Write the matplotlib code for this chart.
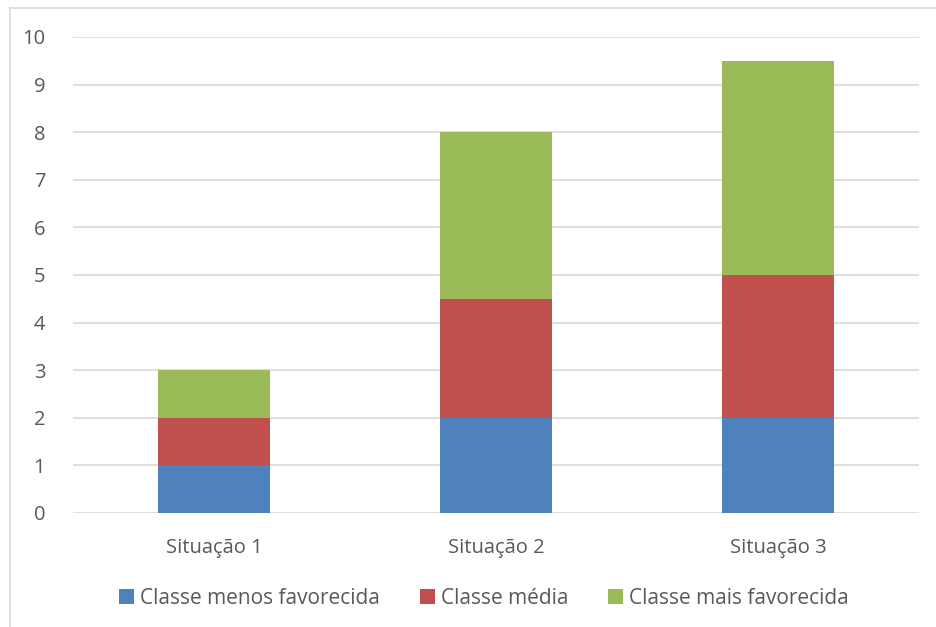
import matplotlib.pyplot as plt
from matplotlib.lines import Line2D
import numpy as np

plt.rcParams['font.family'] = ['Open Sans', 'DejaVu Sans']

# dados
situacoes = ['Situação 1', 'Situação 2', 'Situação 3']
menos_favorecida = [1, 2, 2]
media = [1, 2.5, 3]
mais_favorecida = [1, 3.5, 4.5]
series_nomes = ['Classe menos favorecida', 'Classe média', 'Classe mais favorecida']
cores = ['#4F81BD', '#C0504D', '#9BBB59']

W, H = 937, 627
fig = plt.figure(figsize=(W / 100, H / 100), dpi=100)
ax = fig.add_axes([73 / W, 1 - 513 / H, (919 - 73) / W, (513 - 37) / H])

x = np.arange(len(situacoes))
base = np.zeros(len(situacoes))
for vals, nome, cor in zip([menos_favorecida, media, mais_favorecida], series_nomes, cores):
    ax.bar(x, vals, width=0.4, bottom=base, color=cor, label=nome, zorder=3)
    base = base + np.array(vals)

ax.set_xlim(-0.5, len(situacoes) - 0.5)
ax.set_ylim(0, 10)
ax.set_yticks(range(0, 11))
ax.set_xticks(x)
ax.set_xticklabels(situacoes)
ax.yaxis.grid(True, color='#D9D9D9', linewidth=1.2, zorder=0)
for s in ax.spines.values():
    s.set_visible(False)
ax.tick_params(axis='both', length=0, labelsize=14.5, colors='#595959')
ax.tick_params(axis='y', pad=20)
ax.tick_params(axis='x', pad=18)

leg = ax.legend(loc='center', bbox_to_anchor=(0.486, (513 - 598) / (513 - 37)), ncol=3,
                frameon=False, fontsize=15, handlelength=0.72, handleheight=0.72,
                columnspacing=1.9, handletextpad=0.3)
for t in leg.get_texts():
    t.set_color('#595959')

# moldura do gráfico
fig.add_artist(Line2D([10 / W, 1], [1 - 8 / H, 1 - 8 / H], color='#D9D9D9', linewidth=1.2))
fig.add_artist(Line2D([10 / W, 10 / W], [0, 1 - 8 / H], color='#D9D9D9', linewidth=1.2))

fig.savefig('out.png', dpi=100)
